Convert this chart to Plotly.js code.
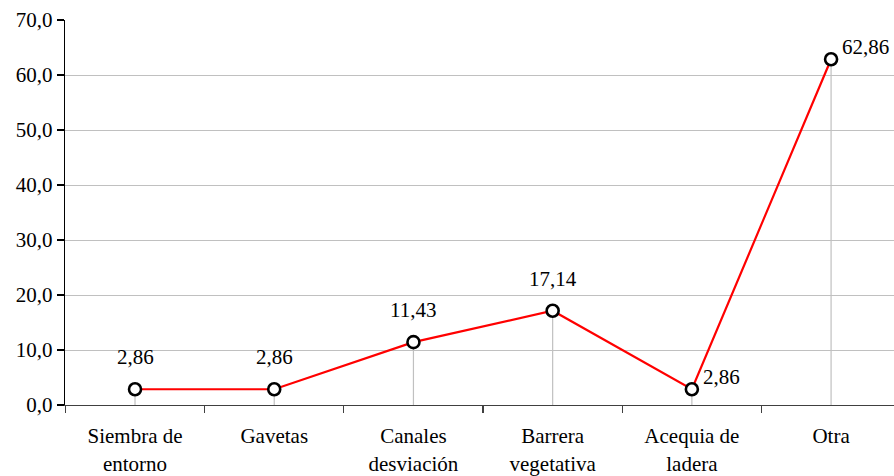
<!DOCTYPE html>
<html>
<head>
<meta charset="utf-8">
<script src="https://cdn.plot.ly/plotly-3.0.1.min.js"></script>
<style>html,body{margin:0;padding:0;background:#fff;}#chart{width:894px;height:476px;}</style>
</head>
<body>
<div id="chart"></div>
<script>
const categories = ["Siembra de<br>entorno", "Gavetas", "Canales<br>desviación", "Barrera<br>vegetativa", "Acequia de<br>ladera", "Otra"];
const values = [2.86, 2.86, 11.43, 17.14, 2.86, 62.86];
const labelSide = ["top", "top", "top", "top", "right", "right"];
const yTicks = [0, 10, 20, 30, 40, 50, 60, 70];

const FONT = "Liberation Serif";
const fmt = v => v.toFixed(2).replace('.', ',');

const dropTrace = {
  x: categories, y: values, type: 'scatter', mode: 'markers',
  marker: {opacity: 0, size: 1},
  error_y: {type: 'data', symmetric: false, array: values.map(() => 0), arrayminus: values,
            color: '#c0c0c0', thickness: 1.2, width: 0},
  hoverinfo: 'skip', showlegend: false
};
const lineTrace = {
  x: categories, y: values, type: 'scatter', mode: 'lines+markers',
  line: {color: '#ff0000', width: 2.2},
  marker: {symbol: 'circle', size: 12, color: '#ffffff', line: {color: '#000000', width: 2.6}},
  showlegend: false
};

const annotations = categories.map((c, i) => labelSide[i] === 'top' ? {
  x: c, y: values[i], xref: 'x', yref: 'y', text: fmt(values[i]), showarrow: false,
  xanchor: 'center', yanchor: 'middle', yshift: 32, font: {family: FONT, size: 21, color: '#000'}
} : {
  x: c, y: values[i], xref: 'x', yref: 'y', text: fmt(values[i]), showarrow: false,
  xanchor: 'left', yanchor: 'middle', xshift: 9, yshift: 12, font: {family: FONT, size: 21, color: '#000'}
});

const layout = {
  width: 894, height: 476,
  margin: {l: 65, r: 0, t: 20, b: 71},
  paper_bgcolor: '#fff', plot_bgcolor: '#fff',
  separators: ',.',
  font: {family: FONT, size: 21, color: '#000'},
  showlegend: false,
  xaxis: {
    type: 'category', range: [-0.503, 5.452],
    showgrid: false, zeroline: false,
    showline: true, linecolor: '#404040', linewidth: 1.2,
    ticks: 'outside', tickson: 'boundaries', ticklen: 7, tickcolor: '#404040', tickwidth: 1.2,
    ticklabelstandoff: 12,
    tickfont: {family: FONT, size: 21, color: '#000'}
  },
  yaxis: {
    range: [0, 70], tickvals: yTicks, tickformat: '.1f',
    showgrid: true, gridcolor: '#c0c0c0', gridwidth: 1,
    zeroline: false, showline: true, linecolor: '#000', linewidth: 1.2,
    ticks: 'outside', ticklen: 7, tickcolor: '#000', tickwidth: 1.2,
    tickfont: {family: FONT, size: 21, color: '#000'}
  },
  annotations: annotations
};

Plotly.newPlot('chart', [dropTrace, lineTrace], layout, {displayModeBar: false, staticPlot: true});
</script>
</body>
</html>
